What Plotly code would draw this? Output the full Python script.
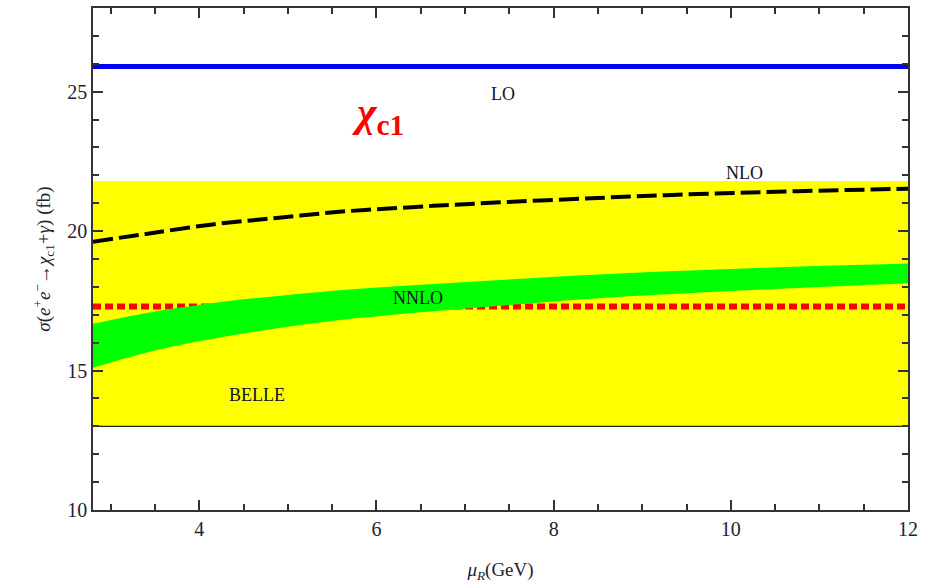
import plotly.graph_objects as go

# ---- data ----
mu_range = [2.8, 12.0]
lo_value = 25.9
belle_central = 17.3
belle_low = 13.0
belle_high = 21.8

nlo_mu = [2.8, 3.4, 4.15, 4.9, 5.65, 6.4, 7.14, 8.5, 9.63, 10.75, 12.0]
nlo_sigma = [19.62, 19.90, 20.24, 20.48, 20.71, 20.86, 20.99, 21.19, 21.33, 21.43, 21.52]

nnlo_mu = [2.8, 3.5, 4.25, 5.0, 5.85, 7.3, 8.85, 10.4, 12.0]
nnlo_upper = [16.68, 17.12, 17.46, 17.71, 17.94, 18.23, 18.50, 18.69, 18.84]
nnlo_lower = [15.10, 15.72, 16.19, 16.57, 16.90, 17.30, 17.66, 17.91, 18.13]

labels_text = ["LO", "NLO", "NNLO", "BELLE"]
labels_x = [7.43, 10.15, 6.47, 4.65]
labels_y = [24.93, 22.07, 17.6, 14.14]

x_ticks = [4, 6, 8, 10, 12]
y_ticks = [10, 15, 20, 25]

serif = "Liberation Serif"

fig = go.Figure()

# Belle band (yellow)
fig.add_trace(go.Scatter(x=mu_range, y=[belle_low, belle_low], mode="lines",
                         line=dict(width=0, color="#ffff00"), showlegend=False, hoverinfo="skip"))
fig.add_trace(go.Scatter(x=mu_range, y=[belle_high, belle_high], mode="lines",
                         line=dict(width=0, color="#ffff00"), fill="tonexty",
                         fillcolor="#ffff00", showlegend=False, hoverinfo="skip"))
# bottom edge of Belle band
fig.add_trace(go.Scatter(x=mu_range, y=[belle_low, belle_low], mode="lines",
                         line=dict(width=1.2, color="#222222"), showlegend=False, hoverinfo="skip"))
# Belle central (red dotted)
fig.add_trace(go.Scatter(x=mu_range, y=[belle_central, belle_central], mode="lines",
                         line=dict(width=6, color="#ff0000", dash="8px,4px"),
                         showlegend=False, hoverinfo="skip"))
# NNLO band (green)
fig.add_trace(go.Scatter(x=nnlo_mu, y=nnlo_lower, mode="lines", line=dict(width=0, color="#00ff00", shape="spline"),
                         showlegend=False, hoverinfo="skip"))
fig.add_trace(go.Scatter(x=nnlo_mu, y=nnlo_upper, mode="lines", line=dict(width=0, color="#00ff00", shape="spline"),
                         fill="tonexty", fillcolor="#00ff00", showlegend=False, hoverinfo="skip"))
# NLO (black dashed)
fig.add_trace(go.Scatter(x=nlo_mu, y=nlo_sigma, mode="lines",
                         line=dict(width=4, color="#000000", dash="20px,6px", shape="spline"),
                         showlegend=False, hoverinfo="skip"))
# LO (blue)
fig.add_trace(go.Scatter(x=mu_range, y=[lo_value, lo_value], mode="lines",
                         line=dict(width=5, color="#0000ff"), showlegend=False, hoverinfo="skip"))

# text labels
for t, x, y in zip(labels_text, labels_x, labels_y):
    fig.add_annotation(x=x, y=y, text=t, showarrow=False,
                       font=dict(family=serif, size=18, color="#111122"))

fig.add_annotation(x=6.02, y=24.15, text="<b><i>χ</i><sub>c1</sub></b>", showarrow=False,
                   font=dict(family=serif, size=42, color="#ff0000"))

axis_common = dict(showline=True, linecolor="#333333", linewidth=1.5, mirror="allticks",
                   ticks="inside", tickcolor="#333333", tickwidth=1.5, showgrid=False,
                   zeroline=False, tickfont=dict(family=serif, size=20, color="#222233"))

fig.update_xaxes(range=mu_range, tickvals=x_ticks, ticklen=10,
                 minor=dict(dtick=0.5, tick0=0, ticks="inside", ticklen=6, tickcolor="#333333", showgrid=False),
                 title=dict(text="<i>μ<sub>R</sub></i>(GeV)", font=dict(family=serif, size=19, color="#222233"),
                            standoff=24),
                 **axis_common)
fig.update_yaxes(range=[10, 28], tickvals=y_ticks, ticklen=10,
                 minor=dict(dtick=1, tick0=0, ticks="inside", ticklen=6, tickcolor="#333333", showgrid=False),
                 title=dict(text="<i>σ</i>(<i>e</i><sup>+</sup><i>e</i><sup>−</sup>→<i>χ</i><sub>c1</sub>+<i>γ</i>) (fb)",
                            font=dict(family=serif, size=19, color="#222233"), standoff=12),
                 **axis_common)

fig.update_layout(width=930, height=584, margin=dict(l=93, r=22, t=6, b=74),
                  plot_bgcolor="white", paper_bgcolor="white", showlegend=False)

fig.write_html("out.html")
